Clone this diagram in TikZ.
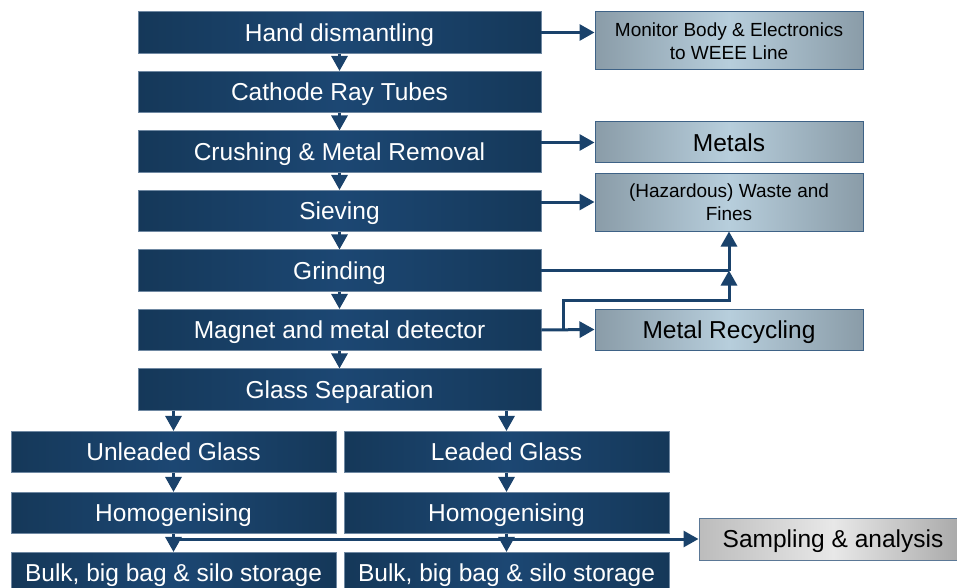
\documentclass[tikz,border=0pt]{standalone}
\usepackage{fontspec}
\setmainfont{Liberation Sans}
\usetikzlibrary{arrows.meta}

\definecolor{flowline}{HTML}{1A426B}
\definecolor{stepedge}{HTML}{153859}
\definecolor{stepmid}{HTML}{1C4773}
\definecolor{stepborder}{HTML}{6F88A2}
\definecolor{outedge}{HTML}{8A9CA8}
\definecolor{outmid}{HTML}{B7CEDC}
\definecolor{outborder}{HTML}{3E6286}
\definecolor{greyleft}{HTML}{BCBCBC}
\definecolor{greymid}{HTML}{E8E8E8}
\definecolor{greyright}{HTML}{A6A6A6}
\definecolor{greyborder}{HTML}{5B7896}

\newcommand\bigtext{\fontsize{24.5}{28}\selectfont}
\newcommand\smalltext{\fontsize{19}{23}\selectfont}

\tikzset{
  stepbox/.style={rectangle, inner sep=0pt, minimum height=41.5pt,
    left color=stepedge, right color=stepedge, middle color=stepmid,
    draw=stepborder, line width=0.6pt, text=white, font=\bigtext,
    text height=17.5pt, text depth=0pt},
  mainstep/.style={stepbox, minimum width=403pt},
  halfstep/.style={stepbox, minimum width=325pt},
  outbox/.style={rectangle, inner sep=0pt, minimum width=268pt,
    left color=outedge, right color=outedge, middle color=outmid,
    draw=outborder, line width=1pt, text=black, align=center},
  onelabel/.style={outbox, minimum height=41pt, font=\bigtext,
    text height=17.5pt, text depth=0pt},
  twolabel/.style={outbox, minimum height=58pt, font=\smalltext},
  greybox/.style={rectangle, inner sep=0pt, minimum width=268pt, minimum height=42pt,
    left color=greyleft, right color=greyright, middle color=greymid,
    draw=greyborder, line width=1pt, text=black, font=\bigtext,
    text height=17.5pt, text depth=0pt},
  flow/.style={draw=flowline, line width=3pt,
    -{Triangle[width=16pt,length=15pt]}},
  plainflow/.style={draw=flowline, line width=3pt}
}

\begin{document}
\begin{tikzpicture}[x=1pt, y=-1pt]
\clip (0,0) rectangle (957,588);
\fill[white] (0,0) rectangle (957,588);

% main process column
\node[mainstep] (hand)   at (339.5, 32.5) {Hand dismantling};
\node[mainstep] (crt)    at (339.5, 92)   {Cathode Ray Tubes};
\node[mainstep] (crush)  at (339.5, 151.5){Crushing \& Metal Removal};
\node[mainstep] (sieve)  at (339.5, 211)  {Sieving};
\node[mainstep] (grind)  at (339.5, 270.5){Grinding};
\node[mainstep] (magnet) at (339.5, 330)  {Magnet and metal detector};
\node[mainstep] (sep)    at (339.5, 389.5){Glass Separation};

% two glass streams
\node[halfstep] (unl)    at (173.5, 452) {Unleaded Glass};
\node[halfstep] (led)    at (506.5, 452) {Leaded Glass};
\node[halfstep] (homu)   at (173.5, 513) {Homogenising};
\node[halfstep] (homl)   at (506.5, 513) {Homogenising};
\node[halfstep] (bulku)  at (173.5, 573) {Bulk, big bag \& silo storage};
\node[halfstep] (bulkl)  at (506.5, 573) {Bulk, big bag \& silo storage};

% outputs
\node[twolabel] (weee) at (729, 41)
  {Monitor Body \& Electronics\\to WEEE Line};
\node[onelabel] (metals) at (729, 142.5) {Metals};
\node[twolabel] (waste) at (729, 202)
  {(Hazardous) Waste and\\Fines};
\node[onelabel] (recyc) at (729, 329.5) {Metal Recycling};
\node[greybox] (sample) at (833, 539) {Sampling \& analysis};

% helper points for the routed connectors
\coordinate (join)   at (waste.south |- grind.east);
\coordinate (split)  at (563, 330);
\coordinate (bend)   at (563, 300);
\coordinate (tap)    at (homu.south |- sample.west);

% sampling line runs behind the stream arrows
\draw[flow] (tap) -- (sample.west);

% downward flow in the main column
\draw[flow] (hand) -- (crt);
\draw[flow] (crt) -- (crush);
\draw[flow] (crush) -- (sieve);
\draw[flow] (sieve) -- (grind);
\draw[flow] (grind) -- (magnet);
\draw[flow] (magnet) -- (sep);

% split into the two streams
\draw[flow] (unl.north |- sep.south) -- (unl.north);
\draw[flow] (led.north |- sep.south) -- (led.north);
\draw[flow] (unl) -- (homu);
\draw[flow] (led) -- (homl);
\draw[flow] (homu) -- (bulku);
\draw[flow] (homl) -- (bulkl);

% side outputs
\draw[flow] (hand.east) -- (hand.east -| weee.west);
\draw[flow] (crush.east |- metals.west) -- (metals.west);
\draw[flow] (sieve.east |- waste.west) -- (waste.west);
\draw[plainflow] (grind.east) -- (join);
\draw[flow] (join) -- (waste.south);
\draw[flow] (magnet.east) -- (recyc.west);
\draw[flow] (split) -- (bend) -| (join);
\end{tikzpicture}
\end{document}
